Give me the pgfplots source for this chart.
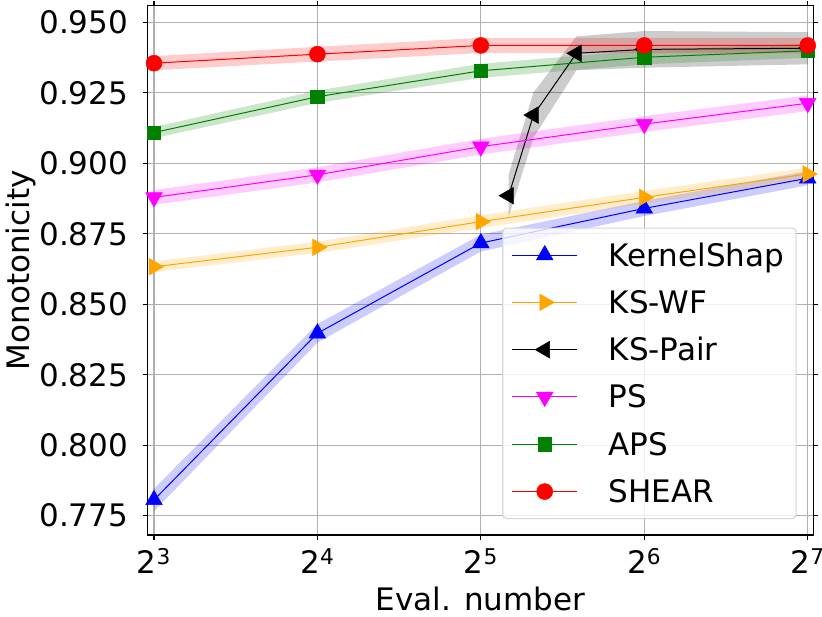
\documentclass[border=0pt]{standalone}
\usepackage{pgfplots}
\pgfplotsset{compat=1.18}
\usepgfplotslibrary{fillbetween}
\usepackage{pgfplotstable}
\usepackage{fontspec}
\setmainfont{DejaVu Sans}
\definecolor{gridc}{HTML}{B0B0B0}
\definecolor{orng}{HTML}{FFA500}
\definecolor{grn}{HTML}{008000}
\definecolor{mag}{HTML}{FF00FF}
\definecolor{legc}{HTML}{D5D5D5}
\newcommand{\bigf}{\fontsize{31}{37}\selectfont}

\pgfplotstableread{
x y e
8 0.7806 0.0040
16 0.8397 0.0033
32 0.8717 0.0030
64 0.8840 0.0027
128 0.8947 0.0025
}\tKS
\pgfplotstableread{
x y e
8 0.8633 0.0019
16 0.8702 0.0020
32 0.8793 0.0023
64 0.8879 0.0023
128 0.8962 0.0023
}\tWF
\pgfplotstableread{
x y e
36 0.8885 0.0075
40 0.9171 0.0080
48 0.9390 0.0060
64 0.9404 0.0065
128 0.9408 0.0057
}\tPair
\pgfplotstableread{
x y e
8 0.8879 0.0026
16 0.8959 0.0027
32 0.9059 0.0028
64 0.9139 0.0028
128 0.9213 0.0028
}\tPS
\pgfplotstableread{
x y e
8 0.9109 0.0020
16 0.9236 0.0022
32 0.9328 0.0025
64 0.9376 0.0025
128 0.9399 0.0025
}\tAPS
\pgfplotstableread{
x y e
8 0.9355 0.0025
16 0.9387 0.0026
32 0.9418 0.0027
64 0.9418 0.0027
128 0.9418 0.0027
}\tSH

\begin{document}
\bigf
\begin{tikzpicture}
\begin{axis}[
  at={(0,0)}, anchor=south west, scale only axis,
  width=665.6pt, height=529.3pt,
  font=\bigf,
  xmode=log, log basis x=2,
  xmin=7.79, xmax=131.07, ymin=0.76816, ymax=0.95589,
  xtick={8,16,32,64,128},
  xticklabels={\mbox{\bigf 2\textsuperscript{3}},\mbox{\bigf 2\textsuperscript{4}},\mbox{\bigf 2\textsuperscript{5}},\mbox{\bigf 2\textsuperscript{6}},\mbox{\bigf 2\textsuperscript{7}}},
  ytick={0.775,0.8,0.825,0.85,0.875,0.9,0.925,0.95},
  yticklabels={\mbox{\bigf 0.775},\mbox{\bigf 0.800},\mbox{\bigf 0.825},\mbox{\bigf 0.850},\mbox{\bigf 0.875},\mbox{\bigf 0.900},\mbox{\bigf 0.925},\mbox{\bigf 0.950}},
  minor xtick={}, xminorgrids=false,
  grid=major, major grid style={gridc, line width=1.1pt},
  tick align=outside, major tick length=5pt,
  every tick/.style={black, line width=1.1pt},
  axis line style={line width=1.1pt, black},
  tick label style={font=\bigf},
  yticklabel style={anchor=east, inner sep=0pt, xshift=-14.4pt},
  xticklabel style={anchor=north, inner sep=0pt, yshift=-8.3pt},
  xlabel={Eval. number}, ylabel={Monotonicity},
  every axis x label/.style={at={([yshift=-75.7pt]axis description cs:0.5,0)}, anchor=base, font=\bigf},
  every axis y label/.style={at={([xshift=-117.7pt]axis description cs:0,0.5)}, rotate=90, anchor=base, font=\bigf},
  legend cell align=left,
  legend image code/.code={\draw[mark repeat=2,mark phase=2,fill opacity=1,draw opacity=1,#1] plot coordinates {(0pt,0pt) (32.5pt,0pt) (65pt,0pt)};},
  legend style={at={(0.975,0.030)}, anchor=south east, draw=legc, line width=1.1pt,
    rounded corners=4pt, fill=white, fill opacity=0.8, text opacity=1, font=\bigf,
    inner xsep=9pt, inner ysep=9pt, row sep=11.3pt,
    nodes={inner sep=3pt, text height=26pt, text depth=4pt},
    /tikz/every odd column/.append style={column sep=28pt}},
]
% KernelShap
\addplot[name path=ksu, draw=none, forget plot] table[x=x, y expr=\thisrow{y}+\thisrow{e}]{\tKS};
\addplot[name path=ksl, draw=none, forget plot] table[x=x, y expr=\thisrow{y}-\thisrow{e}]{\tKS};
\addplot[blue, fill opacity=0.2, draw=none, forget plot] fill between[of=ksu and ksl];
\addplot[blue, line width=1pt, mark=triangle*, mark size=9.6pt, mark options={solid, fill=blue, line width=0.5pt}] table[x=x, y=y]{\tKS};
\addlegendentry{KernelShap}
% KS-WF
\addplot[name path=wfu, draw=none, forget plot] table[x=x, y expr=\thisrow{y}+\thisrow{e}]{\tWF};
\addplot[name path=wfl, draw=none, forget plot] table[x=x, y expr=\thisrow{y}-\thisrow{e}]{\tWF};
\addplot[orng, fill opacity=0.2, draw=none, forget plot] fill between[of=wfu and wfl];
\addplot[orng, line width=1pt, mark=triangle*, mark size=9.6pt, mark options={solid, fill=orng, rotate=-90, line width=0.5pt}] table[x=x, y=y]{\tWF};
\addlegendentry{KS-WF}
% KS-Pair
\addplot[name path=pu, draw=none, forget plot] table[x=x, y expr=\thisrow{y}+\thisrow{e}]{\tPair};
\addplot[name path=pl, draw=none, forget plot] table[x=x, y expr=\thisrow{y}-\thisrow{e}]{\tPair};
\addplot[black, fill opacity=0.2, draw=none, forget plot] fill between[of=pu and pl];
\addplot[black, line width=1pt, mark=triangle*, mark size=9.6pt, mark options={solid, fill=black, rotate=90, line width=0.5pt}] table[x=x, y=y]{\tPair};
\addlegendentry{KS-Pair}
% PS
\addplot[name path=psu, draw=none, forget plot] table[x=x, y expr=\thisrow{y}+\thisrow{e}]{\tPS};
\addplot[name path=psl, draw=none, forget plot] table[x=x, y expr=\thisrow{y}-\thisrow{e}]{\tPS};
\addplot[mag, fill opacity=0.2, draw=none, forget plot] fill between[of=psu and psl];
\addplot[mag, line width=1pt, mark=triangle*, mark size=9.6pt, mark options={solid, fill=mag, rotate=180, line width=0.5pt}] table[x=x, y=y]{\tPS};
\addlegendentry{PS}
% APS
\addplot[name path=au, draw=none, forget plot] table[x=x, y expr=\thisrow{y}+\thisrow{e}]{\tAPS};
\addplot[name path=al, draw=none, forget plot] table[x=x, y expr=\thisrow{y}-\thisrow{e}]{\tAPS};
\addplot[grn, fill opacity=0.2, draw=none, forget plot] fill between[of=au and al];
\addplot[grn, line width=1pt, mark=square*, mark size=6.7pt, mark options={solid, fill=grn, line width=0.5pt}] table[x=x, y=y]{\tAPS};
\addlegendentry{APS}
% SHEAR
\addplot[name path=su, draw=none, forget plot] table[x=x, y expr=\thisrow{y}+\thisrow{e}]{\tSH};
\addplot[name path=sl, draw=none, forget plot] table[x=x, y expr=\thisrow{y}-\thisrow{e}]{\tSH};
\addplot[red, fill opacity=0.2, draw=none, forget plot] fill between[of=su and sl];
\addplot[red, line width=1pt, mark=*, mark size=8pt, mark options={solid, fill=red, line width=0.5pt}] table[x=x, y=y]{\tSH};
\addlegendentry{SHEAR}
\end{axis}
\pgfresetboundingbox
\path[use as bounding box] (-147.7pt,-81pt) rectangle (674.3pt,535pt);
\end{tikzpicture}
\end{document}
